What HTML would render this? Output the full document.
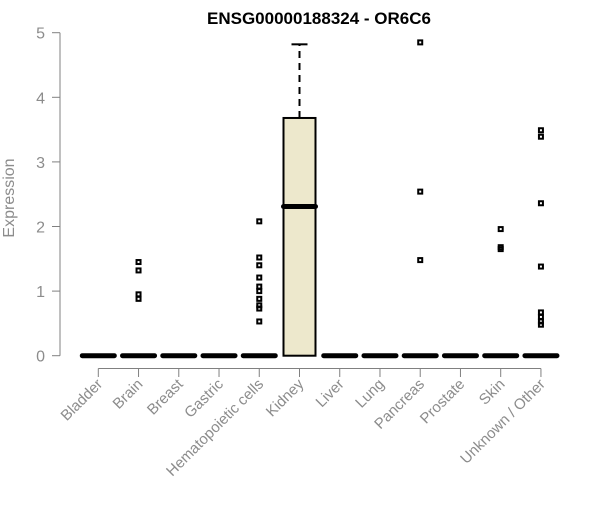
<!DOCTYPE html>
<html><head><meta charset="utf-8"><style>
body{margin:0;background:#fff}
svg{font-family:"Liberation Sans",Arial,sans-serif}
</style></head><body>
<svg id="chart" width="600" height="500">
<text x="319" y="24" text-anchor="middle" font-weight="bold" font-size="17">ENSG00000188324 - OR6C6</text>
<text transform="translate(14,198) rotate(-90)" text-anchor="middle" font-size="16" fill="#8c8c8c">Expression</text>
<g id="axes"></g><g id="marks"></g>
</svg>
<script>
const categories=["Bladder","Brain","Breast","Gastric","Hematopoietic cells","Kidney","Liver","Lung","Pancreas","Prostate","Skin","Unknown / Other"];
const q1=[0,0,0,0,0,0,0,0,0,0,0,0];
const medians=[0,0,0,0,0,2.31,0,0,0,0,0,0];
const q3=[0,0,0,0,0,3.68,0,0,0,0,0,0];
const whiskerHigh=[0,0,0,0,0,4.82,0,0,0,0,0,0];
const outliers=[[],[1.45,1.32,0.95,0.88],[],[],[2.08,1.52,1.40,1.21,1.07,1.0,0.88,0.78,0.73,0.53],[],[],[],[4.85,2.54,1.48],[],[1.96,1.68,1.65],[3.49,3.39,2.36,1.38,0.67,0.60,0.53,0.48]];
const yTicks=[0,1,2,3,4,5];
const NS="http://www.w3.org/2000/svg";
const y=v=>355.7-v*64.6;
const x=i=>98.3+i*40.24;
const axes=document.getElementById('axes'),marks=document.getElementById('marks');
function mk(p,tag,a){const e=document.createElementNS(NS,tag);for(const k in a)e.setAttribute(k,a[k]);p.appendChild(e);return e;}
let l=mk(axes,'line',{x1:60,x2:60,y1:y(5),y2:y(0),stroke:'#808080'});


yTicks.forEach(t=>{
 const tk=mk(axes,'line',{x1:52,x2:60,y1:y(t),y2:y(t),stroke:'#808080'});
 
 
 const tx=mk(axes,'text',{x:45,y:y(t)+6,'text-anchor':'end','font-size':16,fill:'#8c8c8c'});
 tx.textContent=t;
 
 
});
l=mk(axes,'line',{x1:x(0),x2:x(11),y1:368.5,y2:368.5,stroke:'#808080'});


categories.forEach((c,i)=>{
 const tk=mk(axes,'line',{x1:x(i),x2:x(i),y1:368.5,y2:377,stroke:'#808080'});
 
 
 const tx=mk(axes,'text',{transform:`translate(${x(i)+5},${385}) rotate(-45)`,'text-anchor':'end','font-size':15,fill:'#8c8c8c'});
 tx.textContent=c;
 
 
 const g=mk(marks,'g',{});
 
 
 const cx=x(i),hw=16;
 if(q3[i]>q1[i]){
  mk(g,'line',{x1:cx,x2:cx,y1:y(q3[i]),y2:y(whiskerHigh[i]),stroke:'#000','stroke-width':2,'stroke-dasharray':'7,5'});
  mk(g,'line',{x1:cx-8,x2:cx+8,y1:y(whiskerHigh[i]),y2:y(whiskerHigh[i]),stroke:'#000','stroke-width':2});
  mk(g,'rect',{x:cx-hw,y:y(q3[i]),width:2*hw,height:y(q1[i])-y(q3[i]),fill:'#ede8cc',stroke:'#000','stroke-width':2});
 }
 mk(g,'line',{x1:cx-hw,x2:cx+hw,y1:y(medians[i]),y2:y(medians[i]),stroke:'#000','stroke-width':5,'stroke-linecap':'round'});
 outliers[i].forEach(v=>{
  const r=mk(g,'rect',{x:cx-2,y:y(v)-2,width:4,height:4,fill:'none',stroke:'#000','stroke-width':2});
  
  
 });
});
</script>
</body></html>
